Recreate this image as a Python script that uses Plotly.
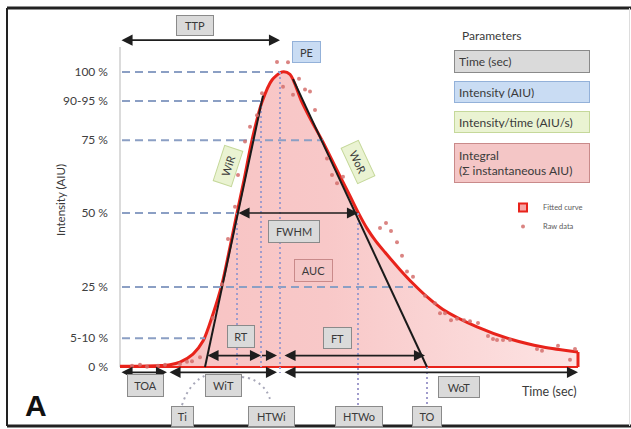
import plotly.graph_objects as go

W, H = 631, 429

# ---------------- data ----------------
# fitted curve (time in arbitrary sec units, intensity in % of peak)
curve_t = [0, 20, 40, 50, 60, 73, 83, 93, 102, 110, 117, 124, 132, 142, 152, 162,
           170, 181, 191, 202, 220, 230, 238, 247, 256, 265, 280, 293, 308, 323, 357, 390, 423, 458]
curve_I = [0.3, 0.3, 0.5, 0.8, 1.7, 4.4, 8.8, 18.0, 28.1, 40.7, 52.2, 63.4, 76.9, 89.8, 97.3, 100,
           99.2, 90.5, 83.7, 76.9, 64.7, 58.0, 52.5, 47.0, 42.6, 38.9, 33.0, 28.3, 23.5, 19.5,
           13.6, 9.5, 6.8, 5.1]

# raw data points
raw_t = [12, 20, 27, 38, 45, 60, 67, 72, 80, 93, 102, 108, 115, 118, 125, 130, 137, 142, 157, 163,
         168, 173, 179, 185, 190, 195, 207, 212, 217, 223, 260, 266, 271, 277, 282, 287, 293, 305,
         315, 320, 325, 331, 337, 344, 350, 358, 368, 373, 377, 383, 390, 417, 422, 438, 450, 455]
raw_I = [0.4, 0.8, 0.1, 0.4, 0.8, 1.0, 1.8, 2.0, 3.3, 16.6, 28.1, 43.4, 54.3, 65.1, 76.4, 81.4,
         85.3, 92.8, 103.4, 95.0, 103.3, 92.3, 97.7, 94.1, 93.4, 87.1, 70.7, 65.1, 62.3, 64.5,
         47.1, 48.8, 46.1, 42.3, 37.7, 32.4, 30.6, 24.2, 21.6, 18.2, 18.2, 15.9, 16.4, 15.9, 15.5,
         14.9, 10.5, 9.5, 9.2, 9.2, 9.2, 6.1, 5.5, 7.2, 2.5, 6.1]

# intensity levels (y tick labels) and how far each dashed guide runs
level_I = [0, 9.8, 27.1, 52.2, 76.9, 90.2, 100]
level_labels = ["0 %", "5-10 %", "25 %", "50 %", "75 %", "90-95 %", "100 %"]
level_end_t = [None, 85, 293, 117, 203, 141, 160]

# key times
t_toa, t_ti, t_half_in, t_9095, t_peak = 47, 85, 117, 141, 160
t_half_out, t_to, t_end = 238, 307, 458

# wash-in / wash-out rate tangents
wir_t, wir_I = [85, 143], [0, 92]
wor_t, wor_I = [173, 307], [97.6, 0]

# vertical dotted markers
mark_t = [t_half_in, t_9095, t_peak, t_half_out, t_to]
mark_top = [52.2, 90.2, 100, 52.2, 0]
mark_bot = [0, 0, -2, -12.9, -12.9]

# dotted connector arcs (Ti and HTWi)
arc_ti_t, arc_ti_I = [62, 66, 72, 79, 86], [-12.9, -9.5, -6.4, -4.1, -2.7]
arc_htwi_t, arc_htwi_I = [122, 132, 141, 147, 151], [-3.4, -4.1, -6.1, -8.5, -11.9]

# time spans (double arrows)
ttp_span, ttp_I = (0, t_peak), 110.8
fwhm_span = (t_half_in, t_half_out)
rt_span, ft_span, rtft_I = (86, t_9095), (163, 305), 3.9
axis_I = -1.8
toa_span, wit_span, wot_span = (0, t_toa), (48, 157), (163, t_end)

FONT = "Lato"
TXT = "#3a3a3a"
RED = "#e8231b"

fig = go.Figure()

# fitted curve with filled area
fig.add_trace(go.Scatter(
    x=curve_t, y=curve_I, mode="lines", name="Fitted curve",
    line=dict(color=RED, width=3, shape="spline", smoothing=0.8),
    fill="tozeroy",
    fillgradient=dict(type="horizontal",
                      colorscale=[[0, "#f8c2c2"], [0.45, "#f8c8c8"], [1, "#fde4e4"]]),
    showlegend=False))
# baseline and right edge of the integral outline
fig.add_trace(go.Scatter(x=[0, t_end], y=[0, 0], mode="lines",
                         line=dict(color=RED, width=2), showlegend=False, hoverinfo="skip"))
fig.add_trace(go.Scatter(x=[t_end, t_end], y=[0, curve_I[-1]], mode="lines",
                         line=dict(color=RED, width=3), showlegend=False, hoverinfo="skip"))

# dashed level guides
for lv, te in zip(level_I, level_end_t):
    if te is None:
        continue
    fig.add_trace(go.Scatter(x=[2, te], y=[lv, lv], mode="lines",
                             line=dict(color="#8b9fc4", width=2, dash="8px,5px"),
                             showlegend=False, hoverinfo="skip"))

# dotted vertical markers
for t, a, b in zip(mark_t, mark_top, mark_bot):
    fig.add_trace(go.Scatter(x=[t, t], y=[a, b], mode="lines",
                             line=dict(color="#a09ccc", width=2, dash="2px,3px"),
                             showlegend=False, hoverinfo="skip"))
for at, ai in ((arc_ti_t, arc_ti_I), (arc_htwi_t, arc_htwi_I)):
    fig.add_trace(go.Scatter(x=at, y=ai, mode="lines",
                             line=dict(color="#a7a7b8", width=2, dash="2px,4px", shape="spline"),
                             showlegend=False, hoverinfo="skip"))

# tangents
for tt, ii in ((wir_t, wir_I), (wor_t, wor_I)):
    fig.add_trace(go.Scatter(x=tt, y=ii, mode="lines", line=dict(color="#1a1a1a", width=2),
                             showlegend=False, hoverinfo="skip"))

# dash-dot link between RT and FT
fig.add_trace(go.Scatter(x=[rt_span[1] + 1, 154], y=[rtft_I, rtft_I], mode="lines",
                         line=dict(color="#1a1a1a", width=1.6, dash="dashdot"),
                         showlegend=False, hoverinfo="skip"))

# legend glyph for the fitted curve
fig.add_trace(go.Scatter(x=[None], y=[None], mode="markers", name="Fitted curve",
                         marker=dict(symbol="square", size=8, color="#f7a6a6",
                                     line=dict(color=RED, width=2))))
# raw data
fig.add_trace(go.Scatter(x=raw_t, y=raw_I, mode="markers", name="Raw data",
                         marker=dict(color="#d46e6c", size=4, opacity=0.85)))

ann = []


def arrow(span, I, both=True):
    ann.append(dict(x=span[1], y=I, ax=span[0], ay=I, xref="x", yref="y", axref="x", ayref="y",
                    text="", showarrow=True, arrowhead=2, arrowsize=1.3, arrowwidth=1.7,
                    arrowcolor="#1e1e1e", arrowside="end+start" if both else "end",
                    standoff=0, startstandoff=0))


arrow(ttp_span, ttp_I)
arrow(fwhm_span, 52.2)
arrow(rt_span, rtft_I)
arrow((152, 157), rtft_I, both=False)
arrow(ft_span, rtft_I)
arrow(toa_span, axis_I)
arrow(wit_span, axis_I)
arrow(wot_span, axis_I)

STY = {
    "gray": ("#dadada", "#8a8a8a"),
    "blue": ("#c9dcf3", "#93b1d9"),
    "green": ("#eaf3d2", "#c5d89a"),
    "pink": ("#f4c6c6", "#c98a8a"),
}


def box(text, cx, cy, w, h, sty, angle=0, size=11, align="center", pad=0):
    bg, bd = STY[sty]
    ann.append(dict(text=text, x=cx / W, y=1 - cy / H, xref="paper", yref="paper",
                    xanchor="center", yanchor="middle", showarrow=False,
                    width=w - 2 - 2 * pad, height=h - 2 - 2 * pad, borderpad=pad,
                    bgcolor=bg, bordercolor=bd, borderwidth=1, textangle=angle, align=align,
                    font=dict(family=FONT, size=size, color=TXT)))


def label(text, cx, cy, size=12, angle=0, family=FONT, color=TXT):
    ann.append(dict(text=text, x=cx / W, y=1 - cy / H, xref="paper", yref="paper",
                    xanchor="center", yanchor="middle", showarrow=False, textangle=angle,
                    font=dict(family=family, size=size, color=color)))


box("TTP", 195, 25, 38, 21, "gray")
box("PE", 306, 52, 29, 22, "blue")
box("WiR", 228, 166, 38, 20, "green", angle=-72)
box("WoR", 358, 162, 40, 20, "green", angle=65)
box("FWHM", 294, 231.5, 52, 23, "gray")
box("AUC", 313, 270, 39, 23, "pink")
box("RT", 241, 336.5, 28, 23, "gray")
box("FT", 337.5, 337.5, 29, 22, "gray")
box("TOA", 145, 385, 37, 23, "gray")
box("WiT", 223, 385, 37, 23, "gray")
box("WoT", 459, 387, 42, 22, "gray")
box("Ti", 182, 416, 23, 21, "gray")
box("HTWi", 271.5, 416, 47, 21, "gray")
box("HTWo", 359, 416, 48, 21, "gray")
box("TO", 426.5, 416, 30, 21, "gray")

box("Time (sec)", 522, 62, 136, 23, "gray", size=12, align="left", pad=4)
box("Intensity (AIU)", 522, 92.5, 136, 22, "blue", size=12, align="left", pad=4)
box("Intensity/time (AIU/s)", 522, 122.5, 136, 22, "green", size=12, align="left", pad=4)
box("Integral<br>(Σ instantaneous AIU)", 522, 162.5, 136, 40, "pink", size=12, align="left", pad=4)

label("Parameters", 492, 35, size=12)
label("Time (sec)", 549, 391, size=12.5)
label("Intensity (AIU)", 60, 200, size=11.5, angle=-90)
label("<b>A</b>", 36, 405, size=30, family="Liberation Sans", color="#111111")

shapes = [
    # y axis line
    dict(type="line", xref="x", yref="y", x0=0, x1=0, y0=0, y1=108.5,
         line=dict(color="#cfcfcf", width=1.5), layer="below"),
    # frame
    dict(type="line", xref="paper", yref="paper", x0=7 / W, x1=1, y0=1 - 8 / H, y1=1 - 8 / H,
         line=dict(color="#222222", width=3)),
    dict(type="line", xref="paper", yref="paper", x0=7 / W, x1=7 / W, y0=1 - 8 / H, y1=1 - 426 / H,
         line=dict(color="#222222", width=2)),
    dict(type="line", xref="paper", yref="paper", x0=7 / W, x1=1, y0=1 - 426 / H, y1=1 - 426 / H,
         line=dict(color="#222222", width=3)),
    dict(type="line", xref="paper", yref="paper", x0=629.5 / W, x1=629.5 / W, y0=1 - 8 / H,
         y1=1 - 426 / H, line=dict(color="#dddddd", width=1)),
]

fig.update_layout(
    width=W, height=H, margin=dict(l=0, r=0, t=0, b=0),
    paper_bgcolor="white", plot_bgcolor="white",
    xaxis=dict(range=[-120, 511], visible=False, fixedrange=True),
    yaxis=dict(range=[-21.0, 124.4], anchor="free", position=120 / W,
               tickvals=level_I, ticktext=level_labels, showgrid=False, zeroline=False,
               showline=False, ticks="", ticklabelstandoff=12, fixedrange=True,
               tickfont=dict(family=FONT, size=12, color="#404040")),
    legend=dict(x=503 / W, y=1 - 193 / H, xanchor="left", yanchor="top",
                bgcolor="rgba(0,0,0,0)", itemwidth=30, tracegroupgap=0,
                font=dict(family=FONT, size=7.5, color="#5a5a5a")),
    annotations=ann, shapes=shapes,
)

fig.write_html("out.html", config={"displayModeBar": False},
               post_script="document.body.style.margin='0px';document.body.style.overflow='hidden';")
